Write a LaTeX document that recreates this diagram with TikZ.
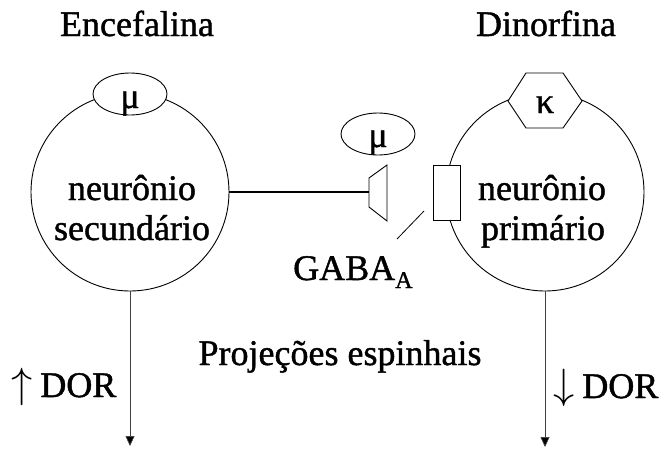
\documentclass[tikz,border=0pt]{standalone}
\usepackage{fontspec}
\newfontface\tnr[FakeBold=1.2]{Liberation Serif}
\usetikzlibrary{shapes.geometric,arrows.meta}
\begin{document}
\begin{tikzpicture}[x=1pt,y=-1pt,
  txt/.style={font=\tnr\fontsize{36}{40}\selectfont, inner sep=0pt, anchor=base},
  cell/.style={circle, draw, line width=0.9pt, minimum size=198pt, inner sep=0pt},
  recep/.style={draw, fill=white, line width=0.9pt, inner sep=0pt},
  arr/.style={line width=0.7pt, draw=black!75, -{Triangle[width=9pt,length=10pt,fill=black]}}
]
\useasboundingbox (0,0) rectangle (666,448);

% titles
\node[txt] (enc) at (137,36) {Encefalina};
\node[txt] (din) at (546,36) {Dinorfina};

% cells
\node[cell] (L) at (130,192) {};
\node[cell] (R) at (545,192) {};

% receptors on cells
\node[recep, ellipse, minimum width=74pt, minimum height=42pt] (Lmu) at (130,94) {};
\node[txt] (Lmut) at (130,108) {μ};
\draw[recep] (526,73) -- (563,73) -- (582,101) -- (563,128) -- (526,128) -- (508,101) -- cycle;
\coordinate (hex) at (545,100);
\node[txt] (kap) at (545,113) {κ};

% middle mu receptor
\node[recep, ellipse, minimum width=74pt, minimum height=42pt] (Mmu) at (378,134) {};
\node[txt] (Mmut) at (378,147) {μ};

% cell texts
\node[txt] (L1) at (132,200) {neurônio};
\node[txt] (L2) at (132,240) {secundário};
\node[txt] (R1) at (542,200) {neurônio};
\node[txt] (R2) at (543,240) {primário};

% synapse
\draw[line width=0.9pt] (369,178) -- (387,165) -- (387,221) -- (369,207) -- cycle;
\coordinate (T) at (369,192);
\draw[line width=1.3pt] (L.east) -- (T);
\node[recep, minimum width=27pt, minimum height=55pt] (box) at (446.5,192.5) {};
\coordinate (g1) at (397,239);
\coordinate (g2) at (424,211);
\draw[line width=0.8pt] (g1) -- (g2);
\node[txt, anchor=base west] (gaba) at (293,280) {GABA\raisebox{-8pt}{\fontsize{24}{24}\selectfont A}};

% projections
\coordinate (La) at (130,446);
\coordinate (Ra) at (545,447);
\draw[arr] (L.south) -- (La);
\draw[arr] (R.south) -- (Ra);
\node[txt, anchor=base west] (up) at (11,397) {\raisebox{0pt}{\scalebox{1.7}{$\uparrow$}}\hspace{8pt}DOR};
\node[txt, anchor=base west] (down) at (553,398) {\raisebox{0pt}{\scalebox{1.7}{$\downarrow$}}\hspace{8pt}DOR};
\node[txt] (proj) at (340,365) {Projeções espinhais};
\end{tikzpicture}
\end{document}
